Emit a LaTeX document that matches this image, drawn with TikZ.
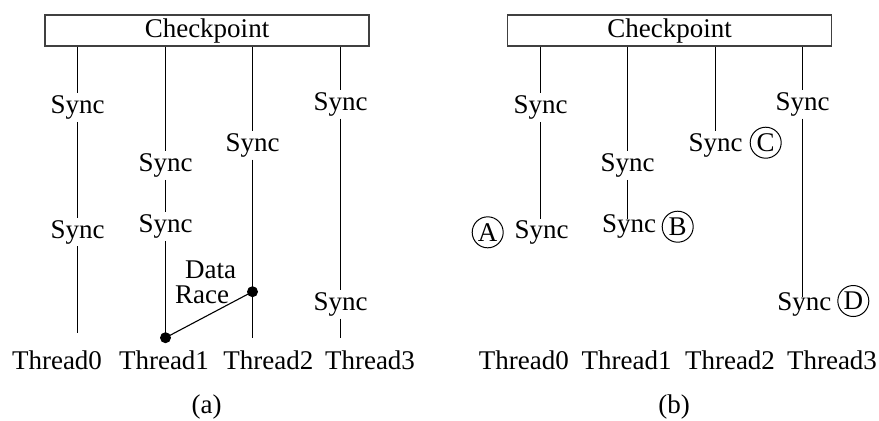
\documentclass[tikz,border=0pt]{standalone}
\usepackage{fontspec}
\setmainfont{Liberation Serif}
\begin{document}
\begin{tikzpicture}[x=0.5pt,y=-0.5pt,
  every node/.style={font=\fontsize{13.5}{16}\selectfont},
  cpbox/.style={draw=black!75,line width=0.6pt,minimum width=162pt,minimum height=15.5pt,inner sep=0pt},
  sync/.style={inner xsep=0pt,inner ysep=1pt},
  lbl/.style={inner sep=0pt},
  circ/.style={draw,circle,minimum size=15.5pt,inner sep=0pt,line width=0.5pt},
  thr/.style={line width=0.55pt},
  dot/.style={fill,circle,inner sep=0pt,minimum size=5.5pt}]
\useasboundingbox (0,0) rectangle (879,420);
% ---------- (a) ----------
\node[cpbox] (cpa) at (207,30.5) {Checkpoint};
\node[sync] (s00) at (77.5,107.7) {Sync};
\node[sync] (s01) at (77.5,232) {Sync};
\node[sync] (s10) at (165.5,165.7) {Sync};
\node[sync] (s11) at (165.5,226.7) {Sync};
\node[sync] (s20) at (252.5,145.3) {Sync};
\node[sync] (s30) at (340.5,104.3) {Sync};
\node[sync] (s31) at (340.5,304.3) {Sync};
\coordinate (e0) at (77.5,332.7);
\node[dot] (d1) at (165.5,337.7) {};
\node[dot] (d2) at (252.5,291.7) {};
\coordinate (e2) at (252.5,337.7);
\coordinate (e3) at (340.5,337.7);
\draw[thr] (s00 |- cpa.south) -- (s00.north) (s00.south) -- (s01.north) (s01.south) -- (e0);
\draw[thr] (s10 |- cpa.south) -- (s10.north) (s10.south) -- (s11.north) (s11.south) -- (d1.center);
\draw[thr] (s20 |- cpa.south) -- (s20.north) (s20.south) -- (e2);
\draw[thr] (s30 |- cpa.south) -- (s30.north) (s30.south) -- (s31.north) (s31.south) -- (e3);
\draw[thr] (d1.center) -- (d2.center);
\node[lbl] (data) at (210.7,269.3) {Data};
\node[lbl] (race) at (202,294.3) {Race};
\node[lbl] (ta0) at (57,360) {Thread0};
\node[lbl] (ta1) at (164,360) {Thread1};
\node[lbl] (ta2) at (268.3,360) {Thread2};
\node[lbl] (ta3) at (370,360) {Thread3};
\node[lbl] (capa) at (206.7,406.7) {(a)};
% ---------- (b) ----------
\node[cpbox] (cpb) at (669.7,30.5) {Checkpoint};
\node[sync] (r00) at (540.5,107.7) {Sync};
\node[sync] (r01) at (541.7,232.3) {Sync};
\node[sync] (r10) at (627.5,165.7) {Sync};
\node[sync] (r11) at (629,226.7) {Sync};
\node[sync] (r20) at (715.5,145.3) {Sync};
\node[sync] (r30) at (802.5,104.3) {Sync};
\node[sync] (r31) at (804.3,304.3) {Sync};
\coordinate (f0) at (540.5,219);
\coordinate (f1) at (627.5,219);
\coordinate (f3) at (802.5,296.7);
\draw[thr] (r00 |- cpb.south) -- (r00.north) (r00.south) -- (f0);
\draw[thr] (r10 |- cpb.south) -- (r10.north) (r10.south) -- (f1);
\draw[thr] (r20 |- cpb.south) -- (r20.north);
\draw[thr] (r30 |- cpb.south) -- (r30.north) (r30.south) -- (f3);
\node[circ] (cA) at (487.7,232.3) {A};
\node[circ] (cB) at (677.7,226.7) {B};
\node[circ] (cC) at (765.7,142.7) {C};
\node[circ] (cD) at (853.3,301) {D};
\node[lbl] (tb0) at (523.8,360) {Thread0};
\node[lbl] (tb1) at (626.7,360) {Thread1};
\node[lbl] (tb2) at (730,360) {Thread2};
\node[lbl] (tb3) at (832,360) {Thread3};
\node[lbl] (capb) at (674,406.7) {(b)};
\end{tikzpicture}
\end{document}
